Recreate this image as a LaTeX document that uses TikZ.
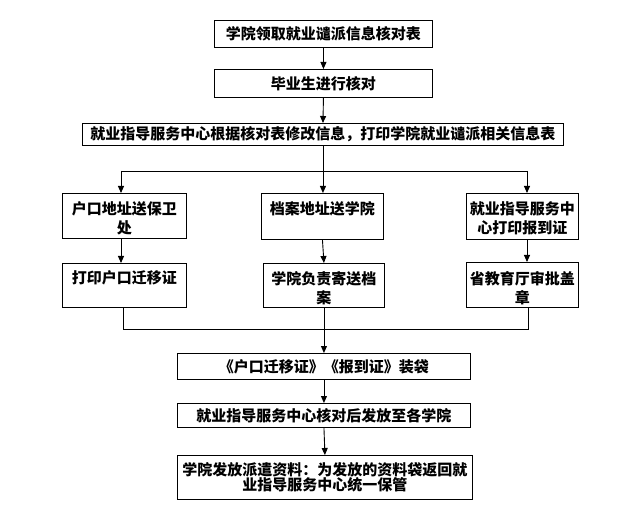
\documentclass[tikz,border=0pt]{standalone}
\usepackage{fontspec}
\newfontfamily\cjk{Noto Sans CJK SC}
\usetikzlibrary{arrows.meta}
\begin{document}
\begin{tikzpicture}[x=1pt,y=-1pt,
  cjkfont/.style={font=\cjk\bfseries\fontsize{15}{19}\selectfont},
  box/.style={draw=black, line width=0.9pt, inner sep=0pt, anchor=north west, cjkfont},
  txt/.style={inner sep=0pt, anchor=north, align=center, cjkfont},
  link/.style={line width=0.9pt, draw=black},
  arr/.style={link, -{Triangle[length=7pt,width=6pt]}}]
\fill[white] (0,0) rectangle (640,513);
\useasboundingbox (0,0) rectangle (640,513);

% top chain
\node[box, minimum width=218pt, minimum height=27pt] (b1) at (214,20) {学院领取就业谴派信息核对表};
\node[box, minimum width=218pt, minimum height=28pt] (b2) at (214,69) {毕业生进行核对};
\node[box, minimum width=481pt, minimum height=22pt] (b3) at (82,123) {就业指导服务中心根据核对表修改信息，打印学院就业谴派相关信息表};

% three branches
\node[box, minimum width=124pt, minimum height=45pt] (a1) at (62,193) {};
\node[txt] (a1t) at ([yshift=-8pt]a1.north) {户口地址送保卫\\处};
\node[box, minimum width=124pt, minimum height=44pt] (a2) at (62,263) {};
\node[txt] (a2t) at ([yshift=-7pt]a2.north) {打印户口迁移证};

\node[box, minimum width=122pt, minimum height=46pt] (m1) at (261,193) {};
\node[txt] (m1t) at ([yshift=-8pt]m1.north) {档案地址送学院};
\node[box, minimum width=121pt, minimum height=44pt] (m2) at (263,263) {};
\node[txt] (m2t) at ([yshift=-8pt]m2.north) {学院负责寄送档\\案};

\node[box, minimum width=112pt, minimum height=46pt] (c1) at (466,193) {};
\node[txt] (c1t) at ([yshift=-8pt]c1.north) {就业指导服务中\\心打印报到证};
\node[box, minimum width=112pt, minimum height=45pt] (c2) at (466,262) {};
\node[txt] (c2t) at ([yshift=-9pt]c2.north) {省教育厅审批盖\\章};

% bottom chain
\node[box, minimum width=293pt, minimum height=26pt] (b4) at (177,353) {《户口迁移证》《报到证》装袋};
\node[box, minimum width=293pt, minimum height=24pt] (b5) at (177,403) {就业指导服务中心核对后发放至各学院};
\node[box, minimum width=295pt, minimum height=44pt, align=center,
      font=\cjk\bfseries\fontsize{15}{15.5}\selectfont] (b6) at (177,455)
      {学院发放派遣资料：为发放的资料袋返回就\\业指导服务中心统一保管};

% connectors
\draw[arr] (b1.south) -- (b2.north);
\draw[arr] (b2.south) -- (b3.north);

\coordinate (jl) at (121,171);
\coordinate (jr) at (527,171);
\coordinate (jm) at (b3.south |- jl);
\draw[link] (b3.south) -- (jm);
\draw[link] (jl) -- (jr);
\draw[arr] (jl) -- (jl |- a1.north);
\draw[arr] (jm) -- (jm |- m1.north);
\draw[arr] (jr) -- (jr |- c1.north);

\draw[arr] (jl |- a1.south) -- (jl |- a2.north);
\draw[arr] (m1.south) -- (m2.north);
\draw[arr] (jr |- c1.south) -- (jr |- c2.north);

\coordinate (kl) at (123,329);
\coordinate (kr) at (528,329);
\coordinate (km) at (m2.south |- kl);
\draw[link] (kl |- a2.south) -- (kl) -- (kr) -- (kr |- c2.south);
\draw[link] (m2.south) -- (km);
\draw[arr] (km) -- (km |- b4.north);
\draw[arr] (b4.south) -- (b5.north);
\draw[arr] (b5.south) -- (b6.north);
\end{tikzpicture}
\end{document}
